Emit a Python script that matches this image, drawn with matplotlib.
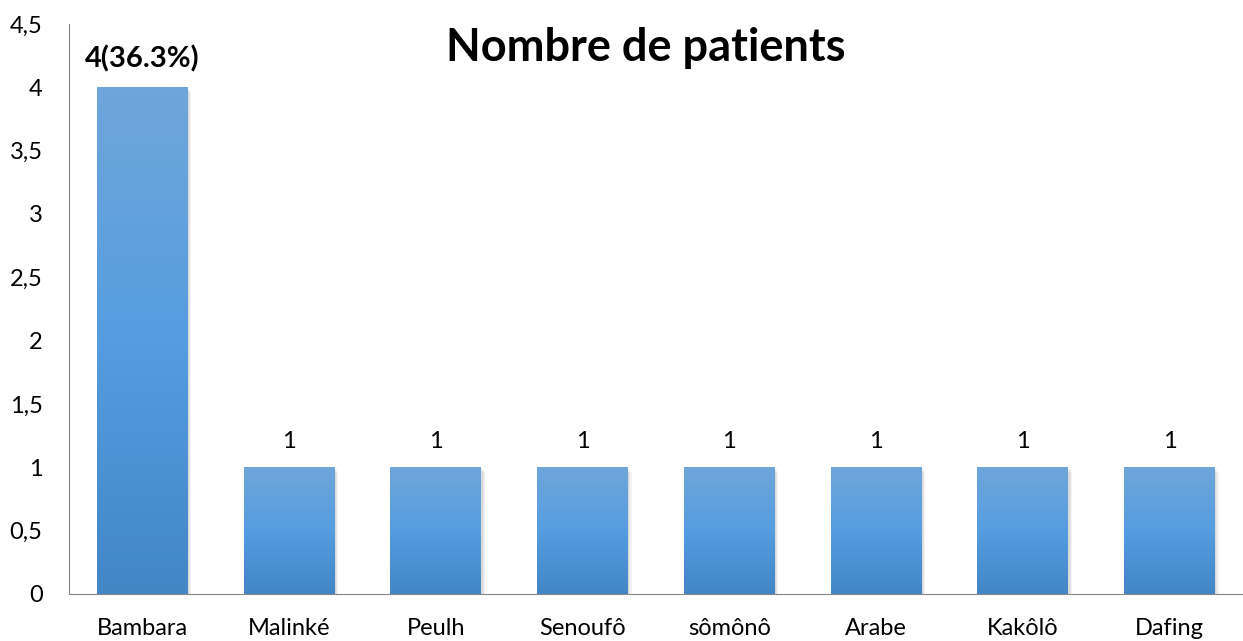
import matplotlib
matplotlib.use("Agg")
import matplotlib.pyplot as plt
import numpy as np
from matplotlib.colors import LinearSegmentedColormap
from matplotlib.patches import Rectangle

categories = ["Bambara", "Malinké", "Peulh", "Senoufô", "sômônô", "Arabe", "Kakôlô", "Dafing"]
values = [4, 1, 1, 1, 1, 1, 1, 1]
labels = ["4(36.3%)", "1", "1", "1", "1", "1", "1", "1"]
yticks = [0, 0.5, 1, 1.5, 2, 2.5, 3, 3.5, 4, 4.5]
ytick_labels = ["0", "0,5", "1", "1,5", "2", "2,5", "3", "3,5", "4", "4,5"]

plt.rcParams['font.family'] = ['Lato', 'DejaVu Sans']

fig = plt.figure(figsize=(12.43, 6.41), dpi=100)
ax = fig.add_axes([69/1243, 1-594/641, (1243-69)/1243, (594-24)/641])

x = np.arange(len(categories))
width = 0.62
ax.set_xlim(-0.5, len(categories) - 0.5)
ax.set_ylim(0, 4.5)

cmap = LinearSegmentedColormap.from_list("g", ["#4286c6", "#559de0", "#6fa6da"])
grad = np.linspace(0, 1, 256).reshape(-1, 1)

for xi, v in zip(x, values):
    # soft shadow
    for k, a in enumerate([0.05, 0.05, 0.05]):
        off = 0.008 * (k + 1)
        sh = Rectangle((xi - width/2 + off, -0.012 * (k + 1)), width, v, facecolor="#000000",
                       alpha=a, edgecolor="none", zorder=1)
        ax.add_patch(sh)
    r = Rectangle((xi - width/2, 0), width, v, facecolor="none", edgecolor="none", zorder=2)
    ax.add_patch(r)
    im = ax.imshow(grad, cmap=cmap, origin="lower", aspect="auto",
                   extent=(xi - width/2, xi + width/2, 0, v), zorder=2)
    im.set_clip_path(r)

for i, (xi, v, lab) in enumerate(zip(x, values, labels)):
    if i == 0:
        ax.text(xi, v + 0.12, lab, ha="center", va="bottom", fontsize=21, fontweight="bold")
    else:
        ax.text(xi, v + 0.12, lab, ha="center", va="bottom", fontsize=17)

ax.set_xticks(x)
ax.set_xticklabels(categories, fontsize=17)
ax.set_yticks(yticks)
ax.set_yticklabels(ytick_labels, fontsize=17)
ax.tick_params(axis="both", length=0)
ax.tick_params(axis="x", pad=17)
ax.tick_params(axis="y", pad=19)

for s in ["top", "right"]:
    ax.spines[s].set_visible(False)
ax.spines["left"].set_color("#868686")
ax.spines["bottom"].set_color("#868686")
ax.set_xlim(-0.5, len(categories) - 0.5)
ax.set_ylim(0, 4.5)

fig.text(646/1243, 1-48/641, "Nombre de patients", ha="center", va="center", fontsize=32.5, fontweight="bold")

fig.savefig("out.png", dpi=100)
